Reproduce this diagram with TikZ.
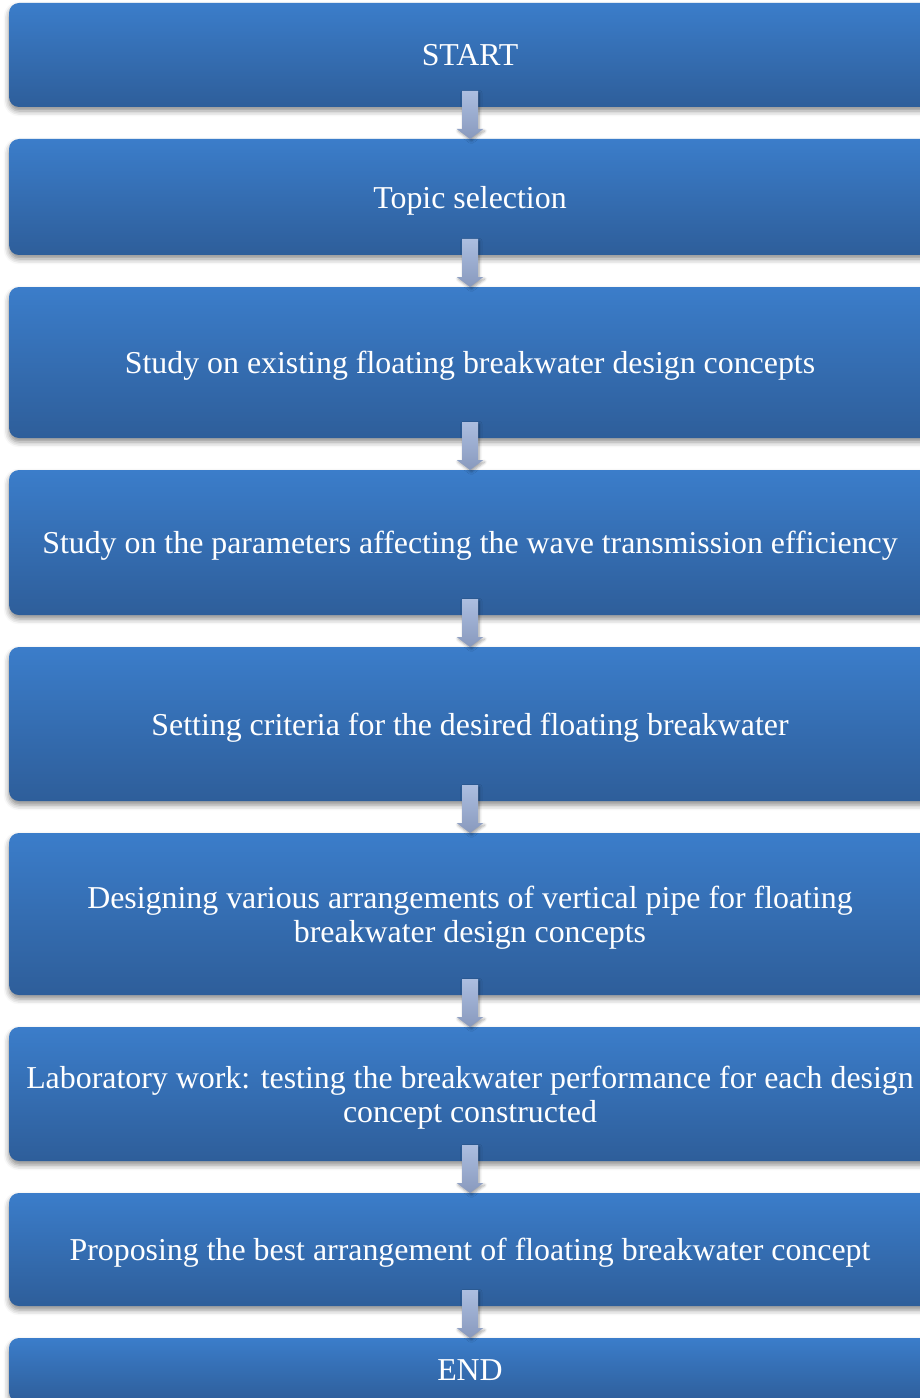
\documentclass[tikz,border=0pt]{standalone}
\usepackage{fontspec}
\setmainfont{Liberation Serif}
\usepackage{tikz}
\usetikzlibrary{positioning,calc,shadows.blur}

\definecolor{boxtop}{RGB}{59,125,202}
\definecolor{boxbottom}{RGB}{46,94,154}
\definecolor{arrowtop}{RGB}{172,190,224}
\definecolor{arrowbottom}{RGB}{136,153,189}

% fat shaded arrow from the bottom of one box to the top of the next
\newcommand{\flowarrow}[2]{%
    \path[arrowfill] ($(#1.south)+(-6pt,12pt)$) -- ($(#1.south)+(6pt,12pt)$)
        -- ($(#2.north)+(6pt,7.5pt)$) -- ($(#2.north)+(10pt,7.5pt)$)
        -- (#2.north) -- ($(#2.north)+(-10pt,7.5pt)$)
        -- ($(#2.north)+(-6pt,7.5pt)$) -- cycle;}

\begin{document}
\begin{tikzpicture}[
    x=0.75pt, y=0.75pt,
    node distance=24pt,
    stepbox/.style={rectangle, rounded corners=7.5pt, minimum width=691.5pt, align=center,
        top color=boxtop, bottom color=boxbottom, text=white, inner sep=0pt, outer sep=0pt,
        text depth=0pt, font=\fontsize{23.9}{25.6}\selectfont,
        blur shadow={shadow xshift=0pt, shadow yshift=-3pt, shadow blur radius=4pt, shadow opacity=45}},
    arrowfill/.style={top color=arrowtop, bottom color=arrowbottom,
        blur shadow={shadow xshift=1pt, shadow yshift=-1.5pt, shadow blur radius=2pt, shadow opacity=35}}
]
    \useasboundingbox (0,0) rectangle (920,-1398);

    \node[stepbox, minimum height=78pt] (start) at (470,-55) {START};
    \node[stepbox, minimum height=87pt, below=of start] (topic) {Topic selection};
    \node[stepbox, minimum height=113.25pt, below=of topic] (existing) {Study on existing floating breakwater design concepts};
    \node[stepbox, minimum height=108.75pt, below=of existing] (params) {Study on the parameters affecting the wave transmission efficiency};
    \node[stepbox, minimum height=115.5pt, below=of params] (criteria) {Setting criteria for the desired floating breakwater};
    \node[stepbox, minimum height=121.5pt, below=of criteria] (design) {Designing various arrangements of vertical pipe for floating\\breakwater design concepts};
    \node[stepbox, minimum height=100.5pt, below=of design] (lab) {Laboratory work: testing the breakwater performance for each design\\concept constructed};
    \node[stepbox, minimum height=84.75pt, below=of lab] (propose) {Proposing the best arrangement of floating breakwater concept};
    \node[stepbox, minimum height=48pt, below=of propose] (end) {END};

    \flowarrow{start}{topic}
    \flowarrow{topic}{existing}
    \flowarrow{existing}{params}
    \flowarrow{params}{criteria}
    \flowarrow{criteria}{design}
    \flowarrow{design}{lab}
    \flowarrow{lab}{propose}
    \flowarrow{propose}{end}
\end{tikzpicture}
\end{document}
